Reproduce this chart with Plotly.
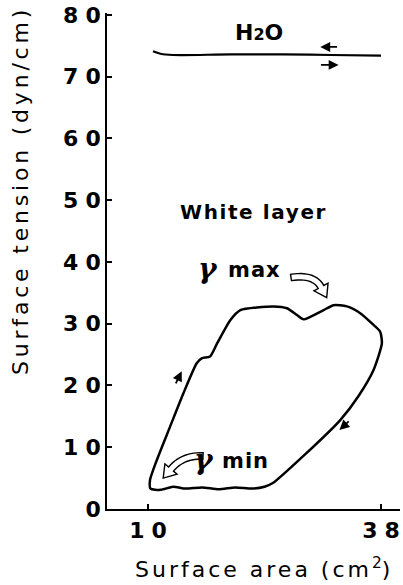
import numpy as np
import plotly.graph_objects as go

# Pressure-area loop of the white layer (surface area cm^2, surface tension dyn/cm)
loop_area = [10.3, 11.5, 13.0, 14.5, 16.5, 18.5, 20.5, 22.5, 24.0, 25.0,
             29.0, 33.1, 35.3, 37.1, 38.1, 37.9, 37.1, 35.5, 33.9, 32.3,
             31.1, 28.7, 27.9, 26.7, 25.1, 21.1, 19.9, 18.3, 17.45, 16.45,
             15.85, 14.24, 12.64, 11.05, 10.24, 10.3]
loop_tension = [3.3, 3.1, 3.6, 3.3, 3.5, 3.2, 3.5, 3.3, 3.6, 4.2,
                9.0, 14.4, 18.3, 22.5, 26.8, 28.7, 29.8, 31.7, 32.8, 33.0,
                32.2, 30.7, 31.4, 32.5, 32.8, 32.2, 30.6, 26.8, 24.7, 24.4,
                23.6, 18.7, 13.3, 7.9, 4.7, 3.3]

# Pure water: a flat isotherm with no hysteresis
water_area = [10.6, 11.5, 13.0, 20.0, 26.2, 32.0, 38.0]
water_tension = [74.1, 73.7, 73.5, 73.6, 73.6, 73.5, 73.4]

x_tick_vals = [10, 38]
y_tick_vals = [0, 10, 20, 30, 40, 50, 60, 70, 80]

X_RANGE = [5.07, 40.28]
Y_RANGE = [0, 80.3]
W, H = 403, 585
M_L, M_R, M_T, M_B = 107, 3, 13, 76
PW, PH = W - M_L - M_R, H - M_T - M_B


def to_data(px, py):
    x = X_RANGE[0] + (px - M_L) / PW * (X_RANGE[1] - X_RANGE[0])
    y = Y_RANGE[0] + (H - M_B - py) / PH * (Y_RANGE[1] - Y_RANGE[0])
    return x, y


def hollow_arrow(p0, c, p2, head_len=12, half_w=3.2, head_w=8):
    """Outline of a curved open arrow, built in pixel space, returned as an SVG path in data units."""
    p0, c, p2 = map(np.array, (p0, c, p2))
    t = np.linspace(0, 1, 14)
    pts = ((1 - t)[:, None] ** 2) * p0 + (2 * (1 - t) * t)[:, None] * c + (t[:, None] ** 2) * p2
    d = 2 * (1 - t)[:, None] * (c - p0) + 2 * t[:, None] * (p2 - c)
    d = d / np.linalg.norm(d, axis=1)[:, None]
    n = np.stack([-d[:, 1], d[:, 0]], axis=1)
    left = pts + n * half_w
    right = pts - n * half_w
    tip = p2 + d[-1] * head_len
    wing_l = p2 + n[-1] * head_w
    wing_r = p2 - n[-1] * head_w
    outline = list(left) + [wing_l, tip, wing_r] + list(right[::-1])
    coords = [to_data(px, py) for px, py in outline]
    return "M " + " L ".join(f"{x:.3f},{y:.3f}" for x, y in coords) + " Z"


def spaced(text, px):
    """Widen the gaps between letters without padding after the last one."""
    return f"<span style='letter-spacing:{px}px'>{text[:-1]}</span>{text[-1]}"


fig = go.Figure()

fig.add_trace(go.Scatter(x=water_area, y=water_tension, mode="lines",
                         line=dict(color="black", width=2.2, shape="spline"),
                         hoverinfo="skip", showlegend=False))
fig.add_trace(go.Scatter(x=loop_area, y=loop_tension, mode="lines",
                         line=dict(color="black", width=2.5, shape="spline", smoothing=0.6),
                         hoverinfo="skip", showlegend=False))

# small direction arrows
arrows = [
    ((30.7, 74.8), (32.9, 74.8)),   # water, compression
    ((32.9, 71.9), (30.6, 71.9)),   # water, expansion
    ((14.05, 22.3), (13.25, 20.1)),  # loop, rising branch
    ((33.0, 12.8), (34.3, 14.4)),   # loop, falling branch
]
for head, tail in arrows:
    fig.add_annotation(x=head[0], y=head[1], ax=tail[0], ay=tail[1],
                       xref="x", yref="y", axref="x", ayref="y", text="",
                       showarrow=True, arrowhead=2, arrowsize=1.1, arrowwidth=1.8,
                       arrowcolor="black")

shapes = [
    dict(type="path", path=hollow_arrow((291, 277.5), (314, 274), (321, 287)),
         line=dict(color="black", width=1.4), fillcolor="white", layer="above"),
    dict(type="path", path=hollow_arrow((203, 456), (183, 455), (171, 469)),
         line=dict(color="black", width=1.4), fillcolor="white", layer="above"),
]

txt_font = dict(family="DejaVu Sans", color="black")
fig.add_annotation(x=to_data(259, 32)[0], y=to_data(259, 32)[1], xref="x", yref="y",
                   text="<b>H</b><b><span style='font-size:16px'>2</span></b><b>O</b>",
                   showarrow=False, font=dict(size=22, **txt_font))
fig.add_annotation(x=to_data(253, 212)[0], y=to_data(253, 212)[1], xref="x", yref="y",
                   text=spaced("White layer", 1.6), showarrow=False,
                   font=dict(size=20, weight=600, **txt_font))
for gx, gy, lx, ly, word in [(208, 268, 254, 270, "max"), (204, 459, 245, 461, "min")]:
    fig.add_annotation(x=to_data(gx, gy)[0], y=to_data(gx, gy)[1], xref="x", yref="y",
                       text="<b>γ</b>", showarrow=False,
                       font=dict(size=28, family="DejaVu Serif", color="black", style="italic"))
    fig.add_annotation(x=to_data(lx, ly)[0], y=to_data(lx, ly)[1], xref="x", yref="y",
                       text=f"<b>{spaced(word, 1)}</b>", showarrow=False,
                       font=dict(size=21, **txt_font))

fig.add_annotation(x=(20 - M_L) / PW, y=(H - M_B - 193) / PH, xref="paper", yref="paper",
                   xanchor="center", yanchor="middle",
                   text=spaced("Surface tension (dyn/cm)", 3.8), textangle=-90,
                   showarrow=False, font=dict(size=22, **txt_font))
fig.add_annotation(x=(262 - M_L) / PW, y=(H - M_B - 568) / PH, xref="paper", yref="paper",
                   xanchor="center", yanchor="middle",
                   text="<span style='letter-spacing:3px'>Surface area (cm</span><sup>2</sup>)",
                   showarrow=False, font=dict(size=22, **txt_font))

fig.update_layout(
    width=W, height=H, margin=dict(l=M_L, r=M_R, t=M_T, b=M_B),
    paper_bgcolor="white", plot_bgcolor="white", shapes=shapes,
)
fig.update_xaxes(range=X_RANGE, showgrid=False, zeroline=False, showline=True,
                 linecolor="black", linewidth=1.8, ticks="inside", ticklen=5,
                 tickwidth=1.6, tickcolor="black", tickvals=x_tick_vals,
                 ticktext=[spaced(str(v), 7) for v in x_tick_vals],
                 tickfont=dict(size=22, weight="bold", **txt_font), ticklabelstandoff=1)
fig.update_yaxes(range=Y_RANGE, showgrid=False, zeroline=False, showline=True,
                 linecolor="black", linewidth=1.8, ticks="inside", ticklen=5,
                 tickwidth=1.6, tickcolor="black", tickvals=y_tick_vals,
                 ticktext=[spaced(str(v), 7) for v in y_tick_vals],
                 tickfont=dict(size=22, weight="bold", **txt_font), ticklabelstandoff=0)

fig.write_html("out.html")
